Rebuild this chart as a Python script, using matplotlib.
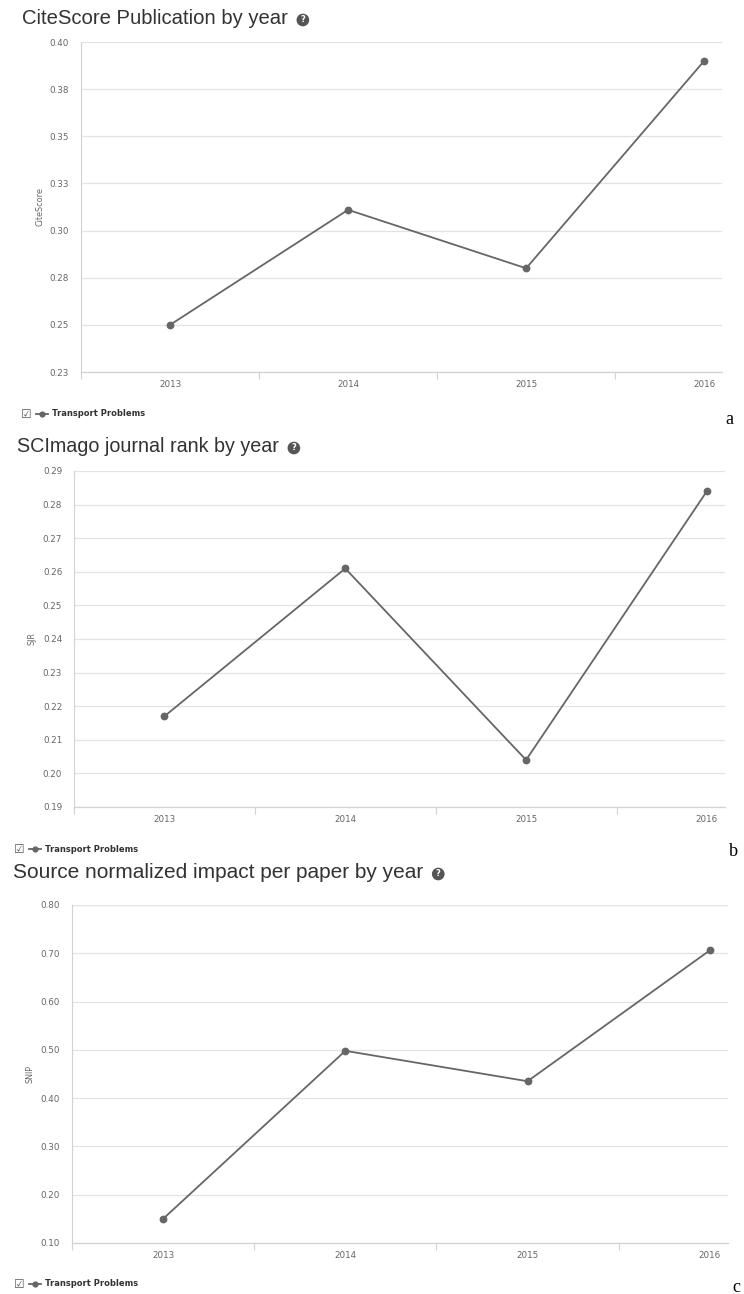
"""
Journal metrics by year (CiteScore, SJR, SNIP) for Transport Problems
Three stacked line panels in the style of the Scopus source page
"""

import numpy as np
import matplotlib.pyplot as plt
from matplotlib.ticker import FixedLocator

# Data
years = ["2013", "2014", "2015", "2016"]
citescore = [0.250, 0.311, 0.280, 0.390]
sjr = [0.217, 0.261, 0.204, 0.284]
snip = [0.150, 0.498, 0.435, 0.706]

cs_ticks = [0.225, 0.25, 0.275, 0.30, 0.325, 0.35, 0.375, 0.40]
cs_labels = ["0.23", "0.25", "0.28", "0.30", "0.33", "0.35", "0.38", "0.40"]
sjr_ticks = [0.19, 0.20, 0.21, 0.22, 0.23, 0.24, 0.25, 0.26, 0.27, 0.28, 0.29]
snip_ticks = [0.10, 0.20, 0.30, 0.40, 0.50, 0.60, 0.70, 0.80]

W, H = 744, 1294
fig = plt.figure(figsize=(W / 100, H / 100), dpi=100)

LINE = "#666666"
GRID = "#e3e3e3"
AXIS = "#d2d2d2"
TICKTXT = "#666666"
SANS = ["DejaVu Sans"]
TITLEFONT = ["Liberation Sans", "DejaVu Sans"]


def fx(px):
    return px / W


def fy(py):
    return 1 - py / H


def panel(box, values, yticks, ylabels, ylabel, title, title_xy, title_size,
          ylabel_x, legend_x, legend_y, letter, letter_xy):
    left, right, top, bottom = box
    ax = fig.add_axes([fx(left), fy(bottom), (right - left) / W, (bottom - top) / H])
    x = np.arange(len(years))
    ax.plot(x, values, color=LINE, linewidth=1.3, marker="o", markersize=4.6,
            label="Transport Problems", zorder=3, solid_joinstyle="round")
    ax.set_xlim(-0.5, 3.1)
    ax.set_ylim(yticks[0], yticks[-1])
    ax.set_xticks(x)
    ax.set_xticklabels(years)
    ax.xaxis.set_minor_locator(FixedLocator([-0.5, 0.5, 1.5, 2.5]))
    ax.set_yticks(yticks)
    ax.set_yticklabels(ylabels if ylabels else ["%.2f" % v for v in yticks])
    ax.tick_params(axis="x", which="major", length=0, pad=5.5, labelsize=6.3,
                   labelcolor=TICKTXT)
    ax.tick_params(axis="x", which="minor", length=5, width=0.8, color=AXIS)
    ax.tick_params(axis="y", length=0, pad=8.5, labelsize=6.3, labelcolor=TICKTXT)
    for lab in ax.get_xticklabels() + ax.get_yticklabels():
        lab.set_family(SANS)
    ax.grid(axis="y", color=GRID, linewidth=0.9, zorder=0)
    ax.set_axisbelow(True)
    for side in ("top", "right"):
        ax.spines[side].set_visible(False)
    ax.spines["left"].set_color(AXIS)
    ax.spines["left"].set_linewidth(0.8)
    ax.spines["bottom"].set_color(AXIS)
    ax.spines["bottom"].set_linewidth(0.9)

    # axis title
    fig.text(fx(ylabel_x), fy((top + bottom) / 2), ylabel, rotation=90,
             ha="center", va="center", fontsize=5.8, color=TICKTXT, family=SANS)

    # chart title with help icon
    t = fig.text(fx(title_xy[0]), fy(title_xy[1]), title, ha="left", va="center",
                 fontsize=title_size, color="#333333", family=TITLEFONT)
    r = fig.canvas.get_renderer()
    bb = t.get_window_extent(renderer=r)
    fig.text((bb.x1 + 15) / W, fy(title_xy[1] + 1), "?", ha="center", va="center",
             fontsize=6, fontweight="bold", color="white", family=SANS,
             bbox=dict(boxstyle="circle,pad=0.22", fc="#555555", ec="none"))

    # legend with checkbox
    fig.text(fx(legend_x - 1), fy(legend_y), "\u2611", ha="left", va="center",
             fontsize=8.5, color="#555555", family=SANS)
    ax.legend(loc="center left", bbox_to_anchor=(fx(legend_x + 14), fy(legend_y)),
              bbox_transform=fig.transFigure, frameon=False, borderpad=0,
              borderaxespad=0, handlelength=1.45, handletextpad=0.5,
              markerscale=0.75, prop={"size": 6, "weight": "bold", "family": SANS},
              labelcolor="#333333")

    # panel letter
    fig.text(fx(letter_xy[0]), fy(letter_xy[1]), letter, ha="center", va="center",
             fontsize=13, color="black", family=["Liberation Serif", "DejaVu Serif"])
    return ax


panel((81, 722, 42, 372), citescore, cs_ticks, cs_labels, "CiteScore",
      "CiteScore Publication by year", (22, 19), 14.6, 40, 22, 414, "a", (729, 420))
panel((74, 725, 471, 807), sjr, sjr_ticks, None, "SJR",
      "SCImago journal rank by year", (17, 447), 14.2, 32, 15, 849, "b", (733, 852))
panel((72, 728, 905, 1243), snip, snip_ticks, None, "SNIP",
      "Source normalized impact per paper by year", (13, 873), 15, 30, 15, 1284,
      "c", (736, 1288))

plt.savefig("out.png", dpi=100)
print("saved out.png")
